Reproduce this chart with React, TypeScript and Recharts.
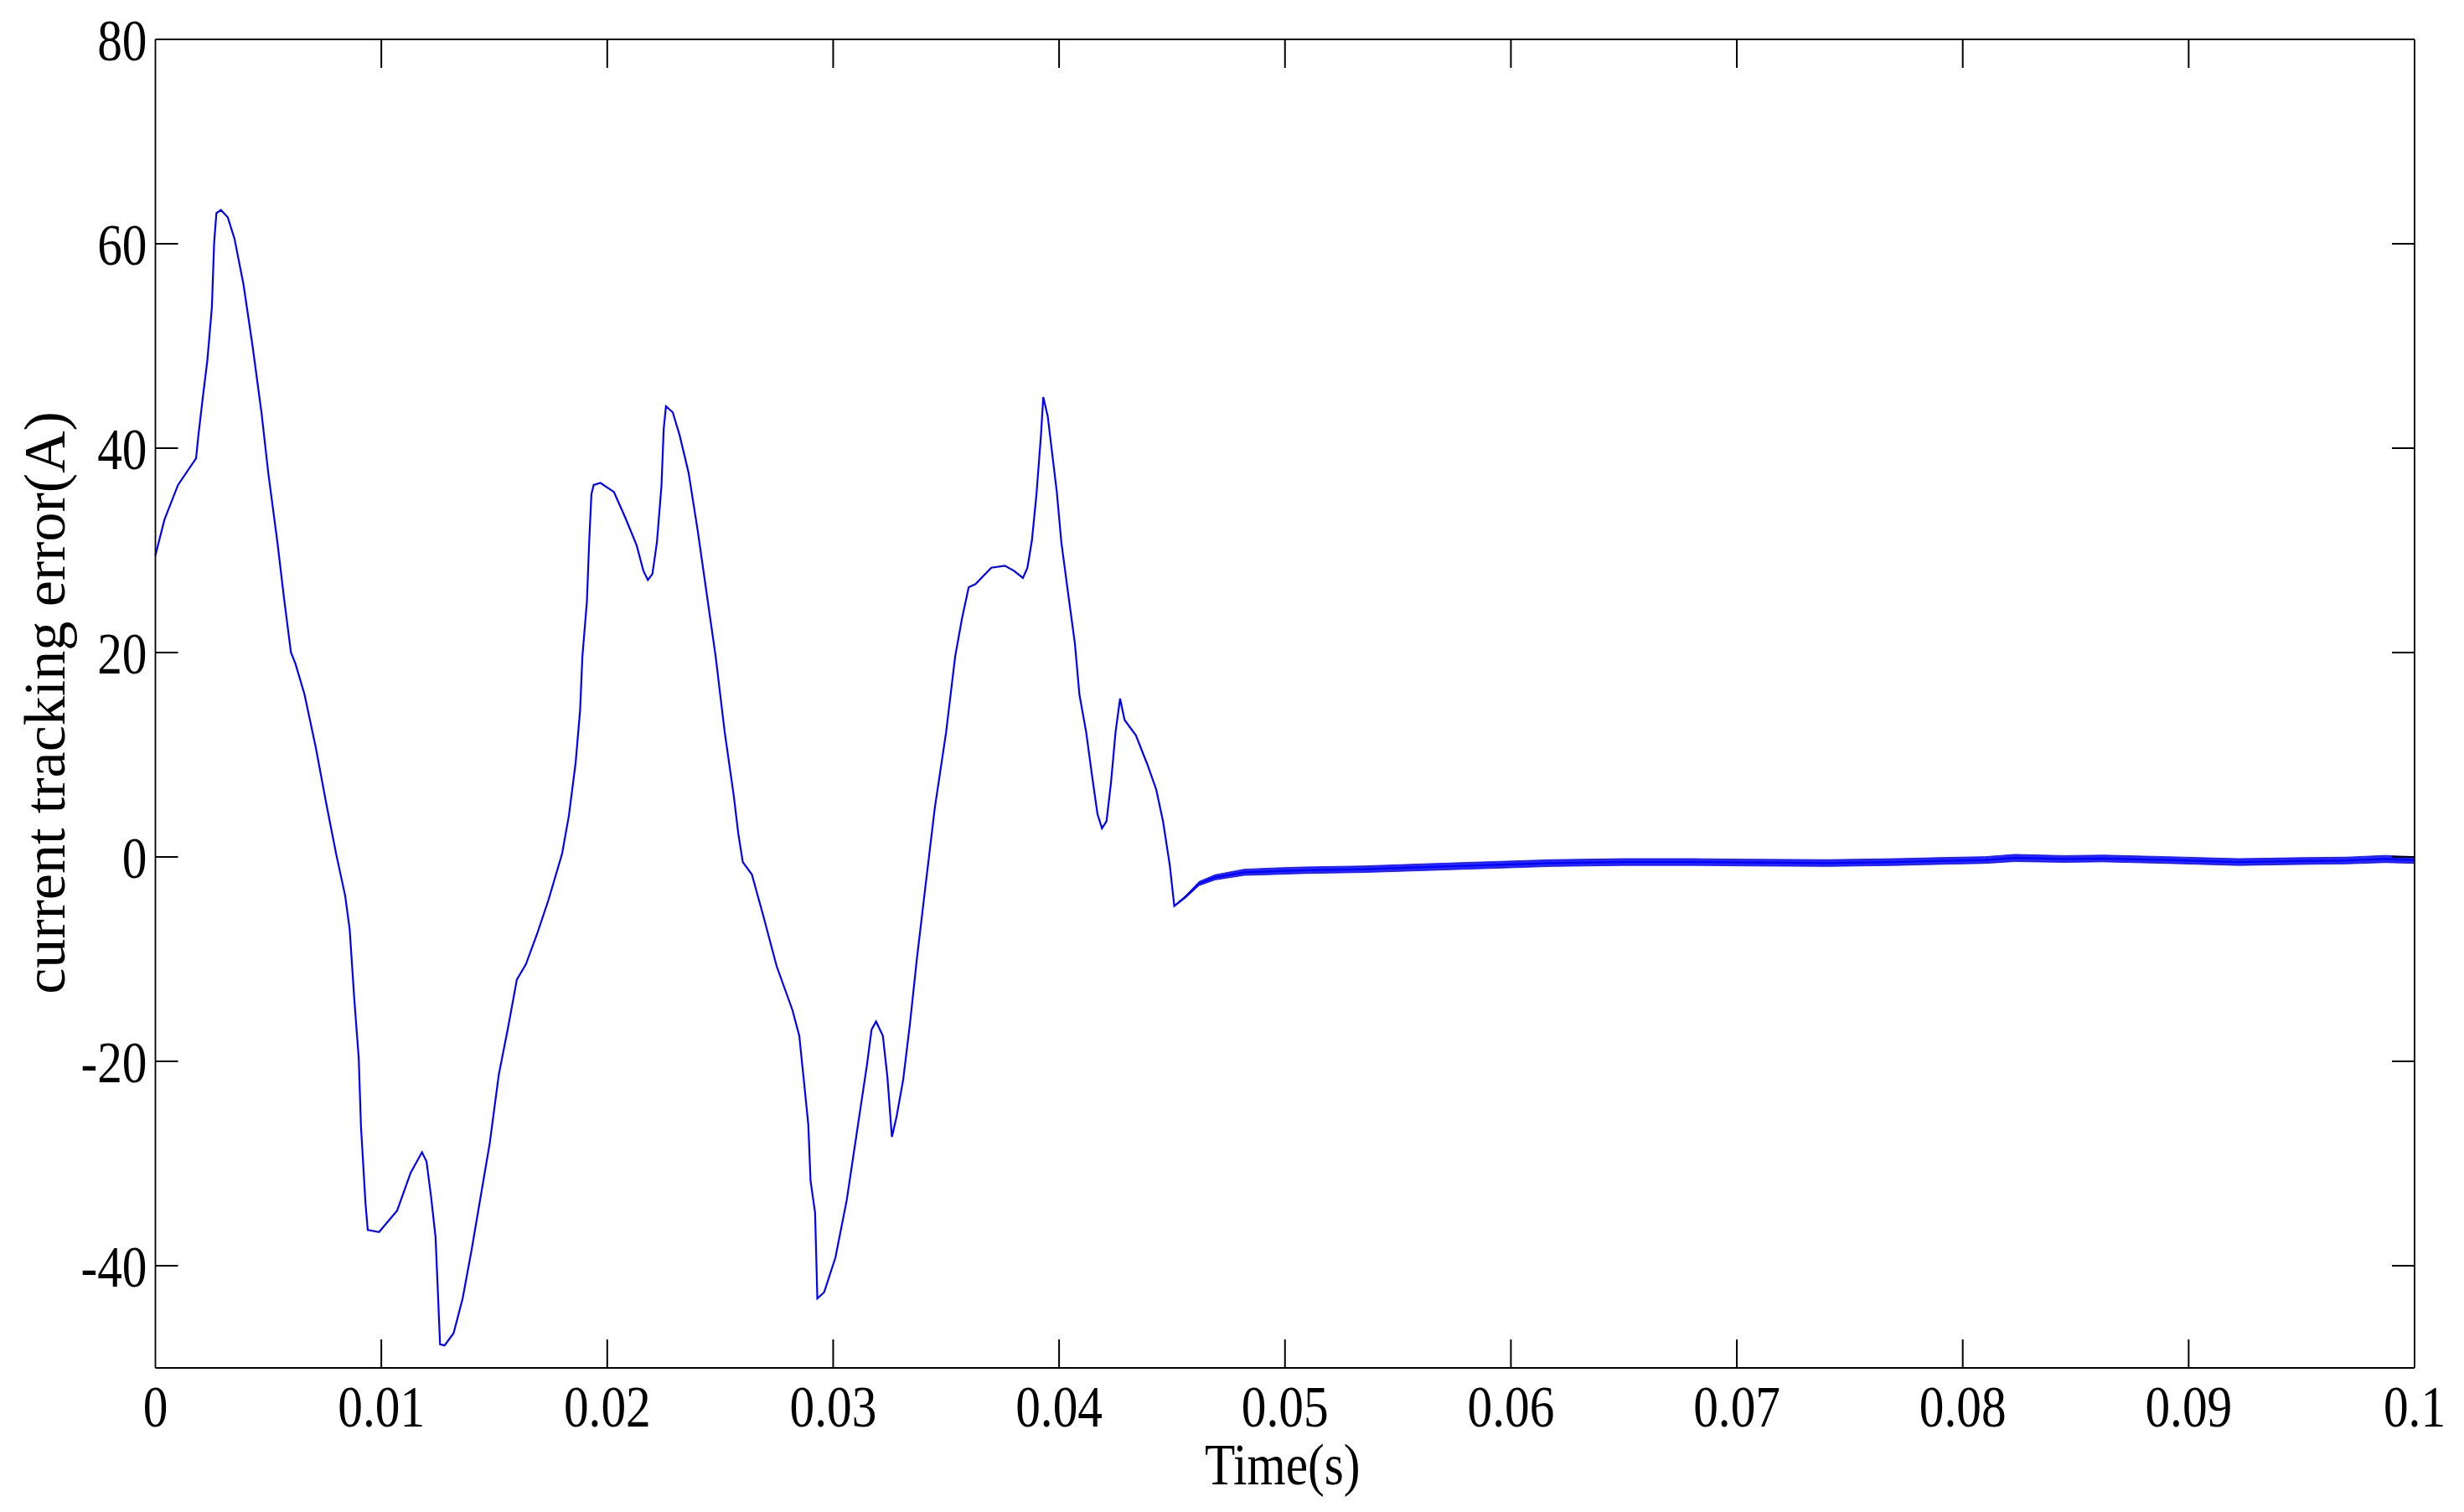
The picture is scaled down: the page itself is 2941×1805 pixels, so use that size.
import React from "react";
import { Area, ComposedChart, Line, ReferenceLine, XAxis, YAxis } from "recharts";

// Tracking error of the current controller.
const TIME = [
  0, 0.0004, 0.001, 0.0018, 0.0019, 0.0021, 0.0023, 0.0025, 0.0026, 0.0027, 0.0029, 0.0032,
  0.0035, 0.0039, 0.0043, 0.0047, 0.005, 0.0054, 0.0057, 0.006, 0.0062, 0.0066, 0.0071, 0.0076,
  0.008, 0.0084, 0.0086, 0.0088, 0.009, 0.0091, 0.0093, 0.0094, 0.0099, 0.0107, 0.0113, 0.0118,
  0.012, 0.0122, 0.0124, 0.0125, 0.0126, 0.0128, 0.0132, 0.0136, 0.014, 0.0144, 0.0148, 0.0152,
  0.0156, 0.016, 0.0164, 0.0169, 0.0174, 0.018, 0.0183, 0.0186, 0.0188, 0.0189, 0.0191, 0.0192,
  0.0193, 0.0194, 0.0197, 0.0203, 0.0208, 0.0213, 0.0216, 0.0218, 0.022, 0.0222, 0.0224, 0.0225,
  0.0226, 0.0229, 0.0232, 0.0236, 0.024, 0.0244, 0.0248, 0.0252, 0.0256, 0.0258, 0.026, 0.0264,
  0.0269, 0.0275, 0.0282, 0.0285, 0.0287, 0.0289, 0.029, 0.0292, 0.0293, 0.0296, 0.0301, 0.0306,
  0.0311, 0.0315, 0.0317, 0.0319, 0.0322, 0.0324, 0.0326, 0.0328, 0.0331, 0.0334, 0.0337, 0.0341,
  0.0345, 0.035, 0.0354, 0.0357, 0.036, 0.0363, 0.037, 0.0376, 0.038, 0.0384, 0.0386, 0.0388,
  0.039, 0.0392, 0.0393, 0.0395, 0.0397, 0.0399, 0.0401, 0.0404, 0.0407, 0.0409, 0.0412, 0.0415,
  0.0417, 0.0419, 0.0421, 0.0423, 0.0425, 0.0427, 0.0429, 0.0434, 0.0439, 0.0443, 0.0446, 0.0449,
];
const ERROR = [
  29.5, 33, 36.4, 39, 41.2, 45, 48.6, 53.8, 60.1, 63, 63.3, 62.6,
  60.5, 56, 50, 43.4, 37.5, 30.8, 25.2, 20, 18.9, 15.9, 10.7, 4.8,
  0.3, -3.8, -7.1, -13.8, -19.7, -26.4, -33.9, -36.5, -36.7, -34.6, -30.9, -28.9,
  -29.8, -33.2, -37.2, -42.4, -47.7, -47.8, -46.6, -43.2, -38.4, -33.2, -28, -21.3,
  -16.8, -12, -10.5, -7.5, -4.2, 0.3, 4, 9.2, 14.4, 19.6, 25, 30.8,
  35.5, 36.4, 36.6, 35.7, 33.2, 30.5, 28, 27.1, 27.7, 30.8, 36.3, 41.9,
  44.1, 43.5, 41.3, 37.6, 32, 25.8, 19.6, 12.2, 6, 2.3, -0.5, -1.7,
  -5.7, -10.7, -15, -17.5, -21.8, -26.2, -31.7, -34.8, -43.2, -42.6, -39.2, -33.6,
  -26.2, -20.3, -16.9, -16.1, -17.5, -21.5, -27.4, -25.5, -21.8, -16.3, -10.1, -2.6,
  4.8, 12.2, 19.6, 23.3, 26.4, 26.7, 28.3, 28.5, 28, 27.3, 28.3, 31,
  35.5, 41.3, 45, 43.1, 39.4, 35.7, 30.8, 25.8, 20.9, 15.9, 12.2, 7.3,
  4.2, 2.8, 3.5, 7.3, 12.2, 15.5, 13.4, 11.9, 9.1, 6.6, 3.5, -0.8,
];

// Settled part: mean value and the half height of the noise band around it.
const TAIL_TIME = [
  0.0451, 0.0456, 0.0462, 0.0469, 0.0482, 0.0495, 0.0509, 0.0535, 0.0562, 0.059, 0.0618,
  0.065, 0.068, 0.0704, 0.074, 0.077, 0.0789, 0.081, 0.0823, 0.0845, 0.0862, 0.089, 0.0922,
  0.095, 0.097, 0.0987, 0.1,
];
const TAIL_MEAN = [
  -4.8, -3.9, -2.6, -2.0, -1.5, -1.4, -1.3, -1.2, -1.0, -0.8, -0.6,
  -0.5, -0.5, -0.55, -0.6, -0.5, -0.4, -0.3, -0.1, -0.2, -0.15, -0.3, -0.5,
  -0.4, -0.35, -0.2, -0.3,
];
const TAIL_SPREAD = [
  0.05, 0.12, 0.2, 0.25, 0.3, 0.32, 0.32, 0.32, 0.33, 0.33, 0.33,
  0.33, 0.33, 0.33, 0.33, 0.33, 0.33, 0.33, 0.35, 0.33, 0.33, 0.33, 0.33,
  0.33, 0.33, 0.35, 0.33,
];

const X_TICKS = [0, 0.01, 0.02, 0.03, 0.04, 0.05, 0.06, 0.07, 0.08, 0.09, 0.1];
const X_LABELS = ["0", "0.01", "0.02", "0.03", "0.04", "0.05", "0.06", "0.07", "0.08", "0.09", "0.1"];
const Y_TICKS = [-40, -20, 0, 20, 40, 60, 80];
const X_DOMAIN = [0, 0.1];
const Y_DOMAIN = [-50, 80];

const curve = [
  ...TIME.map((t, i) => ({ t, v: ERROR[i] })),
  ...TAIL_TIME.map((t, i) => ({ t, v: TAIL_MEAN[i] })),
];
const band = TAIL_TIME.map((t, i) => ({
  t,
  range: [TAIL_MEAN[i] - TAIL_SPREAD[i], TAIL_MEAN[i] + TAIL_SPREAD[i]],
}));

const W = 2941;
const H = 1805;
const M = { top: 47, right: 59, bottom: 172, left: 185.5 };
const PLOT_W = W - M.left - M.right;
const PLOT_H = H - M.top - M.bottom;

const FONT = '"Liberation Serif", "Times New Roman", serif';
const SIZE = 69;
const SQUEEZE = 0.86;
const X_GAP = 21;
const Y_GAP = 10;

// inward tick marks (matlab box), lengths in px turned into data units
const X_TICK_SPAN = (34 * (Y_DOMAIN[1] - Y_DOMAIN[0])) / PLOT_H;
const Y_TICK_SPAN = (27 * (X_DOMAIN[1] - X_DOMAIN[0])) / PLOT_W;
const tickStroke = { stroke: "#000", strokeWidth: 2 };

function XTick(props: any) {
  const { x, y, payload } = props;
  const i = X_TICKS.indexOf(payload.value);
  return (
    <text
      transform={`translate(${x},${y}) scale(${SQUEEZE},1)`}
      textAnchor="middle"
      dy="0.71em"
      fontSize={SIZE}
      fontFamily={FONT}
      fill="#000"
    >
      {i >= 0 ? X_LABELS[i] : payload.value}
    </text>
  );
}

function YTick(props: any) {
  const { x, y, payload } = props;
  return (
    <text
      transform={`translate(${x},${y}) scale(${SQUEEZE},1)`}
      textAnchor="end"
      dy="0.355em"
      fontSize={SIZE}
      fontFamily={FONT}
      fill="#000"
    >
      {payload.value}
    </text>
  );
}

function YTitle(props: any) {
  const vb = props.viewBox;
  const cx = vb.x + 77;
  const cy = vb.y + vb.height / 2 - 1;
  return (
    <text
      x={cx}
      y={cy}
      transform={`rotate(-90 ${cx} ${cy})`}
      textAnchor="middle"
      fontSize={70}
      fontFamily={FONT}
      fill="#000"
    >
      current tracking error(A)
    </text>
  );
}

function XTitle(props: any) {
  const vb = props.viewBox;
  const cx = vb.x + vb.width / 2 - 3;
  const cy = vb.y + 139;
  return (
    <text
      transform={`translate(${cx},${cy}) scale(${SQUEEZE},1)`}
      textAnchor="middle"
      fontSize={SIZE}
      fontFamily={FONT}
      fill="#000"
    >
      Time(s)
    </text>
  );
}

const axisLine = { stroke: "#000", strokeWidth: 1.8 };
const inner = (v: number, d: number[]) => v > d[0] && v < d[1];

export default function App() {
  return (
    <div style={{ position: "absolute", left: 0, top: 0, width: W, height: H, background: "#fff" }}>
      <ComposedChart width={W} height={H} margin={{ top: M.top - 1, right: M.right - 1, bottom: 0, left: 0 }}>
        <XAxis
          xAxisId="bottom"
          dataKey="t"
          type="number"
          domain={X_DOMAIN}
          ticks={X_TICKS}
          height={M.bottom}
          tickSize={0}
          tickMargin={X_GAP}
          axisLine={axisLine}
          tickLine={false}
          tick={<XTick />}
          interval={0}
          label={{ content: <XTitle /> }}
        />
        <XAxis
          xAxisId="top"
          orientation="top"
          type="number"
          domain={X_DOMAIN}
          ticks={X_TICKS}
          height={1}
          tickSize={0}
          axisLine={axisLine}
          tickLine={false}
          tick={false}
        />
        <YAxis
          yAxisId="left"
          type="number"
          domain={Y_DOMAIN}
          ticks={Y_TICKS}
          width={M.left}
          tickSize={0}
          tickMargin={Y_GAP}
          axisLine={axisLine}
          tickLine={false}
          tick={<YTick />}
          interval={0}
          label={{ content: <YTitle /> }}
        />
        <YAxis
          yAxisId="right"
          orientation="right"
          type="number"
          domain={Y_DOMAIN}
          ticks={Y_TICKS}
          width={1}
          tickSize={0}
          axisLine={axisLine}
          tickLine={false}
          tick={false}
        />
        <Area
          xAxisId="bottom"
          yAxisId="left"
          data={band}
          dataKey="range"
          type="linear"
          stroke="#0000ff"
          strokeWidth={0.8}
          fill="#0000ff"
          fillOpacity={0.85}
          isAnimationActive={false}
          dot={false}
          activeDot={false}
        />
        <Line
          xAxisId="bottom"
          yAxisId="left"
          data={curve}
          dataKey="v"
          type="linear"
          stroke="#0000ff"
          strokeWidth={2.2}
          dot={false}
          activeDot={false}
          isAnimationActive={false}
        />
        {X_TICKS.filter((t) => inner(t, X_DOMAIN)).map((t) => (
          <ReferenceLine
            key={`xb${t}`}
            xAxisId="bottom"
            yAxisId="left"
            segment={[{ x: t, y: Y_DOMAIN[0] }, { x: t, y: Y_DOMAIN[0] + X_TICK_SPAN }]}
            {...tickStroke}
          />
        ))}
        {X_TICKS.filter((t) => inner(t, X_DOMAIN)).map((t) => (
          <ReferenceLine
            key={`xt${t}`}
            xAxisId="bottom"
            yAxisId="left"
            segment={[{ x: t, y: Y_DOMAIN[1] }, { x: t, y: Y_DOMAIN[1] - X_TICK_SPAN }]}
            {...tickStroke}
          />
        ))}
        {Y_TICKS.filter((v) => inner(v, Y_DOMAIN)).map((v) => (
          <ReferenceLine
            key={`yl${v}`}
            xAxisId="bottom"
            yAxisId="left"
            segment={[{ x: X_DOMAIN[0], y: v }, { x: X_DOMAIN[0] + Y_TICK_SPAN, y: v }]}
            {...tickStroke}
          />
        ))}
        {Y_TICKS.filter((v) => inner(v, Y_DOMAIN)).map((v) => (
          <ReferenceLine
            key={`yr${v}`}
            xAxisId="bottom"
            yAxisId="left"
            segment={[{ x: X_DOMAIN[1], y: v }, { x: X_DOMAIN[1] - Y_TICK_SPAN, y: v }]}
            {...tickStroke}
          />
        ))}
      </ComposedChart>
    </div>
  );
}
